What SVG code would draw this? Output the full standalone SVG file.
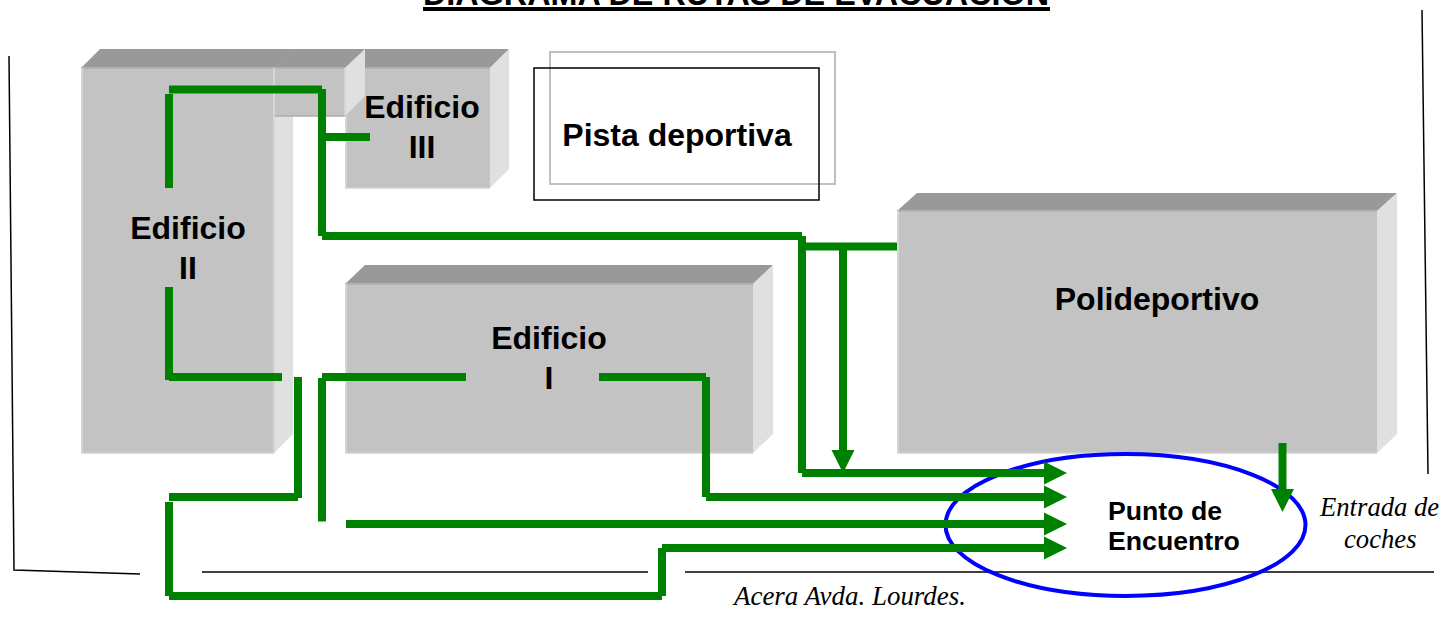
<svg xmlns="http://www.w3.org/2000/svg" width="1442" height="630" viewBox="0 0 1442 630">
<style>
.front{fill:#c3c3c3}
.top{fill:#999999}
.side{fill:#e0e0e0}
.el{fill:none;stroke:#d6d6d6;stroke-width:2}
.et{fill:none;stroke:#b2b2b2;stroke-width:2}
.eb{fill:none;stroke:#d2d2d2;stroke-width:1.5}
.lbl{font-family:"Liberation Sans",Arial,sans-serif;font-weight:700;font-size:32px;text-anchor:middle;fill:#000}
.lbl2{font-family:"Liberation Sans",Arial,sans-serif;font-weight:700;font-size:26.67px;fill:#000}
.it{font-family:"Liberation Serif","Times New Roman",serif;font-style:italic;font-size:26.67px;fill:#000}
.route{fill:none;stroke:#008000;stroke-width:8}
.arrow{marker-end:url(#head)}
.thin{fill:none;stroke:#000;stroke-width:1.5}
</style>
<defs>
<marker id="head" markerUnits="userSpaceOnUse" markerWidth="24" markerHeight="24" refX="1" refY="12" orient="auto">
<path d="M0 0.500L23 12L0 23.500Z" fill="#008000"/>
</marker>
</defs>
<rect width="1442" height="630" fill="#fff"/>
<text id="title" x="423" y="5" font-family="'Liberation Sans',Arial,sans-serif" font-weight="700" font-size="32.85" textLength="626" lengthAdjust="spacingAndGlyphs">DIAGRAMA DE RUTAS DE EVACUACIÓN</text>
<rect x="423" y="7" width="627" height="4" fill="#000"/>
<g id="boundary">
<path class="thin" d="M9 56L14 570L140 574"/>
<path class="thin" d="M202 572H648"/>
<path class="thin" d="M685 572H1434"/>
<path class="thin" d="M1422 10L1428 474"/>
</g>
<g id="edificio-iii">
<polygon class="top" points="345,68 365,49 509,49 490,68"/>
<polygon class="side" points="490,68 509,49 509,169 490,188"/>
<rect class="front" x="345" y="68" width="145" height="120"/>
<path class="et" d="M365 68H490"/>
<path class="el" d="M346 116V188"/>
<path class="eb" d="M345 188H490"/>
<text class="lbl" x="422" y="118">Edificio</text>
<text class="lbl" x="422" y="158">III</text>
</g>
<g id="edificio-ii">
<polygon class="top" points="81,68 100,49 365,49 345,68"/>
<path d="M274 68L293 49" fill="none" stroke="#a2a2a2" stroke-width="1"/>
<polygon class="side" points="345,68 365,49 365,96 345,116"/>
<polygon class="side" points="274,116 293,116 293,434 274,453"/>
<rect class="front" x="81" y="68" width="193" height="385"/>
<rect class="front" x="274" y="68" width="71" height="48"/>
<path class="et" d="M81 68H345"/>
<path class="el" d="M82 68V453"/>
<path class="el" d="M274 68V116"/>
<path class="el" d="M345 68V116" stroke="#ececec"/>
<path d="M274 116H345" fill="none" stroke="#adadad" stroke-width="1.500"/>
<path class="eb" d="M81 453H274"/>
<path class="el" d="M274 116V453"/>
<text class="lbl" x="188" y="239">Edificio</text>
<text class="lbl" x="188" y="279">II</text>
</g>
<g id="edificio-i">
<polygon class="top" points="345,284 365,265 773,265 753,284"/>
<polygon class="side" points="753,284 773,265 773,434 753,453"/>
<rect class="front" x="345" y="284" width="408" height="169"/>
<path class="et" d="M345 284H753"/>
<path class="el" d="M346 284V453"/>
<path class="eb" d="M345 453H753"/>
<text class="lbl" x="549" y="349">Edificio</text>
<text class="lbl" x="549" y="389">I</text>
</g>
<g id="polideportivo">
<polygon class="top" points="897,211 917,193 1397,193 1377,211"/>
<polygon class="side" points="1377,211 1397,193 1397,434 1377,453"/>
<rect class="front" x="897" y="211" width="480" height="242"/>
<path class="et" d="M897 211H1377"/>
<path class="el" d="M898 211V453"/>
<path class="eb" d="M897 453H1377"/>
<text class="lbl" x="1157" y="310">Polideportivo</text>
</g>
<g id="pista-deportiva">
<rect x="550" y="52" width="285" height="132" fill="none" stroke="#c0c0c0" stroke-width="2"/>
<rect x="534" y="68" width="285" height="132" fill="none" stroke="#000" stroke-width="1.500"/>
<text class="lbl" x="677" y="146">Pista deportiva</text>
</g>
<g id="punto-encuentro">
<ellipse cx="1125.500" cy="525" rx="180" ry="71" fill="none" stroke="#0000ff" stroke-width="4"/>
<text class="lbl2" x="1108" y="520">Punto de</text>
<text class="lbl2" x="1108" y="550">Encuentro</text>
</g>
<g id="labels">
<text class="it" x="1320" y="516">Entrada de</text>
<text class="it" x="1344" y="548">coches</text>
<text class="it" x="734" y="605" textLength="232" lengthAdjust="spacingAndGlyphs">Acera Avda. Lourdes.</text>
</g>
<g id="connectors">
<path class="route" d="M169 188V94M169 89.500H322M322 89V236M322 236H802M802 236V473"/>
<path class="route" d="M326 137H370"/>
<path class="route" d="M806 246.500H897"/>
<path class="route arrow" d="M843 246V451"/>
<path class="route arrow" d="M802 473H1045"/>
<path class="route arrow" d="M1282.500 443V490"/>
<path class="route" d="M169 287V380M169 377H282"/>
<path class="route" d="M298 377V498M298 497H169M169 502V596M169 596H662M662 596V548"/>
<path class="route arrow" d="M662 548H1045"/>
<path class="route" d="M322 378V521.500M322 377H466"/>
<path class="route arrow" d="M346 524H1045"/>
<path class="route" d="M599 377H706M706 377V497"/>
<path class="route arrow" d="M706 497H1045"/>
</g>
</svg>
